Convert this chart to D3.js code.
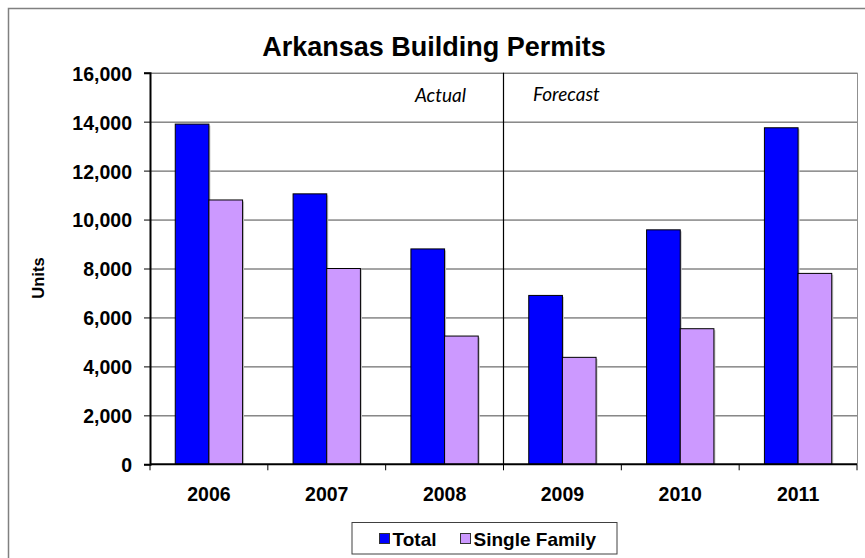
<!DOCTYPE html>
<html>
<head>
<meta charset="utf-8">
<script src="https://cdn.jsdelivr.net/npm/d3@7"></script>
<style>
  html, body { margin: 0; padding: 0; background: #fff; }
  svg { display: block; }
  text { font-family: "Liberation Sans", Arial, sans-serif; }
</style>
</head>
<body>
<svg id="chart" width="865" height="558"></svg>
<script>
// Building permit units by year
const years = ["2006", "2007", "2008", "2009", "2010", "2011"];
const seriesNames = ["Total", "Single Family"];
const totalUnits = [13900, 11050, 8800, 6900, 9580, 13750];
const singleFamilyUnits = [10800, 8000, 5240, 4370, 5540, 7800];
const yTicks = [0, 2000, 4000, 6000, 8000, 10000, 12000, 14000, 16000];
const colors = ["#0000FF", "#CC99FF"];

const svg = d3.select("#chart");
const W = 865, H = 558;
const plot = { left: 150, right: 857, top: 72.7, bottom: 464.3 };

// outer frame of the chart
svg.append("rect")
  .attr("x", 8.5).attr("y", 8.5)
  .attr("width", W + 20).attr("height", H + 20)
  .attr("fill", "#fff").attr("stroke", "#808080").attr("stroke-width", 1.5);

const x0 = d3.scaleBand().domain(years).range([plot.left, plot.right]).padding(0);
const x1 = d3.scaleBand().domain(seriesNames).range([0, x0.bandwidth()])
  .paddingInner(0).paddingOuter(0.75);
const y = d3.scaleLinear().domain([0, 16000]).range([plot.bottom, plot.top]);

// horizontal gridlines
svg.append("g").selectAll("line").data(yTicks.filter(d => d > 0)).join("line")
  .attr("x1", plot.left).attr("x2", plot.right)
  .attr("y1", d => y(d) + 0.5).attr("y2", d => y(d) + 0.5)
  .attr("stroke", "#4a4a4a").attr("stroke-width", 1);

// right edge of plot area
svg.append("line")
  .attr("x1", plot.right + 0.5).attr("x2", plot.right + 0.5)
  .attr("y1", plot.top).attr("y2", plot.bottom)
  .attr("stroke", "#909090").attr("stroke-width", 1);

// bars
const rows = years.map((yr, i) => ({ year: yr, values: [totalUnits[i], singleFamilyUnits[i]] }));
const groups = svg.append("g").selectAll("g").data(rows).join("g")
  .attr("transform", d => `translate(${x0(d.year)},0)`);

// soft shadow on the right side of each bar
groups.selectAll("rect.shadow")
  .data(d => d.values.map((v, k) => ({ name: seriesNames[k], value: v, k })))
  .join("rect").attr("class", "shadow")
  .attr("x", d => x1(d.name) + 1.5)
  .attr("y", d => y(d.value) + 1.5)
  .attr("width", x1.bandwidth())
  .attr("height", d => y(0) - y(d.value) - 1.5)
  .attr("fill", "#c8c8c8");

groups.selectAll("rect.bar")
  .data(d => d.values.map((v, k) => ({ name: seriesNames[k], value: v, k })))
  .join("rect").attr("class", "bar")
  .attr("x", d => x1(d.name))
  .attr("y", d => y(d.value))
  .attr("width", x1.bandwidth())
  .attr("height", d => y(0) - y(d.value))
  .attr("fill", d => colors[d.k])
  .attr("stroke", "#000").attr("stroke-width", 1);

// actual / forecast divider
const divX = x0("2009");
svg.append("line")
  .attr("x1", divX).attr("x2", divX)
  .attr("y1", plot.top).attr("y2", plot.bottom)
  .attr("stroke", "#000").attr("stroke-width", 1.2);

svg.append("text")
  .attr("x", 466).attr("y", 102)
  .attr("text-anchor", "end")
  .style("font-family", "Lato, 'Open Sans', sans-serif")
  .style("font-style", "italic").style("font-size", "19px")
  .text("Actual");
svg.append("text")
  .attr("x", 533).attr("y", 101)
  .attr("text-anchor", "start")
  .style("font-family", "Lato, 'Open Sans', sans-serif")
  .style("font-style", "italic").style("font-size", "19px")
  .text("Forecast");

// y axis
const yAxis = d3.axisLeft(y).tickValues(yTicks).tickSize(6).tickPadding(12)
  .tickFormat(d3.format(","));
const gy = svg.append("g").attr("transform", `translate(${plot.left},0)`).call(yAxis);
gy.select(".domain").attr("stroke", "#000").attr("stroke-width", 2);
gy.selectAll(".tick line").attr("stroke", "#000");
gy.selectAll(".tick text")
  .attr("fill", "#000")
  .style("font-family", "'Liberation Sans', Arial, sans-serif")
  .style("font-weight", "bold").style("font-size", "19.5px")
  .attr("dy", "0.38em");

// x axis: ticks sit on category boundaries
const gx = svg.append("g").attr("transform", `translate(0,${plot.bottom})`);
gx.append("line")
  .attr("x1", plot.left).attr("x2", plot.right)
  .attr("y1", 0).attr("y2", 0)
  .attr("stroke", "#000").attr("stroke-width", 2);
const boundaries = years.map(d => x0(d)).concat([plot.right]);
gx.selectAll("line.tick").data(boundaries).join("line").attr("class", "tick")
  .attr("x1", d => d).attr("x2", d => d)
  .attr("y1", 0).attr("y2", 6)
  .attr("stroke", "#000").attr("stroke-width", 1);
gx.selectAll("text").data(years).join("text")
  .attr("x", d => x0(d) + x0.bandwidth() / 2)
  .attr("y", 36.5)
  .attr("text-anchor", "middle")
  .style("font-weight", "bold").style("font-size", "19.5px")
  .text(d => d);

// axis title
svg.append("text")
  .attr("transform", "translate(44,278) rotate(-90)")
  .attr("text-anchor", "middle")
  .style("font-weight", "bold").style("font-size", "16.5px")
  .text("Units");

// chart title
svg.append("text")
  .attr("x", 434).attr("y", 56)
  .attr("text-anchor", "middle")
  .style("font-weight", "bold").style("font-size", "27px")
  .text("Arkansas Building Permits");

// legend
const legend = svg.append("g");
legend.append("rect")
  .attr("x", 352).attr("y", 522.5).attr("width", 265).attr("height", 31.5)
  .attr("fill", "#fff").attr("stroke", "#404040").attr("stroke-width", 1);
const legendX = [379.5, 460.5];
const legendItems = legend.selectAll("g").data(seriesNames).join("g")
  .attr("transform", (d, i) => `translate(${legendX[i]},533.5)`);
legendItems.append("rect")
  .attr("width", 10).attr("height", 10)
  .attr("fill", (d, i) => colors[i]).attr("stroke", "#333").attr("stroke-width", 1);
legendItems.append("text")
  .attr("x", 13).attr("y", 12)
  .style("font-weight", "bold").style("font-size", "19px")
  .text(d => d);
</script>
</body>
</html>
